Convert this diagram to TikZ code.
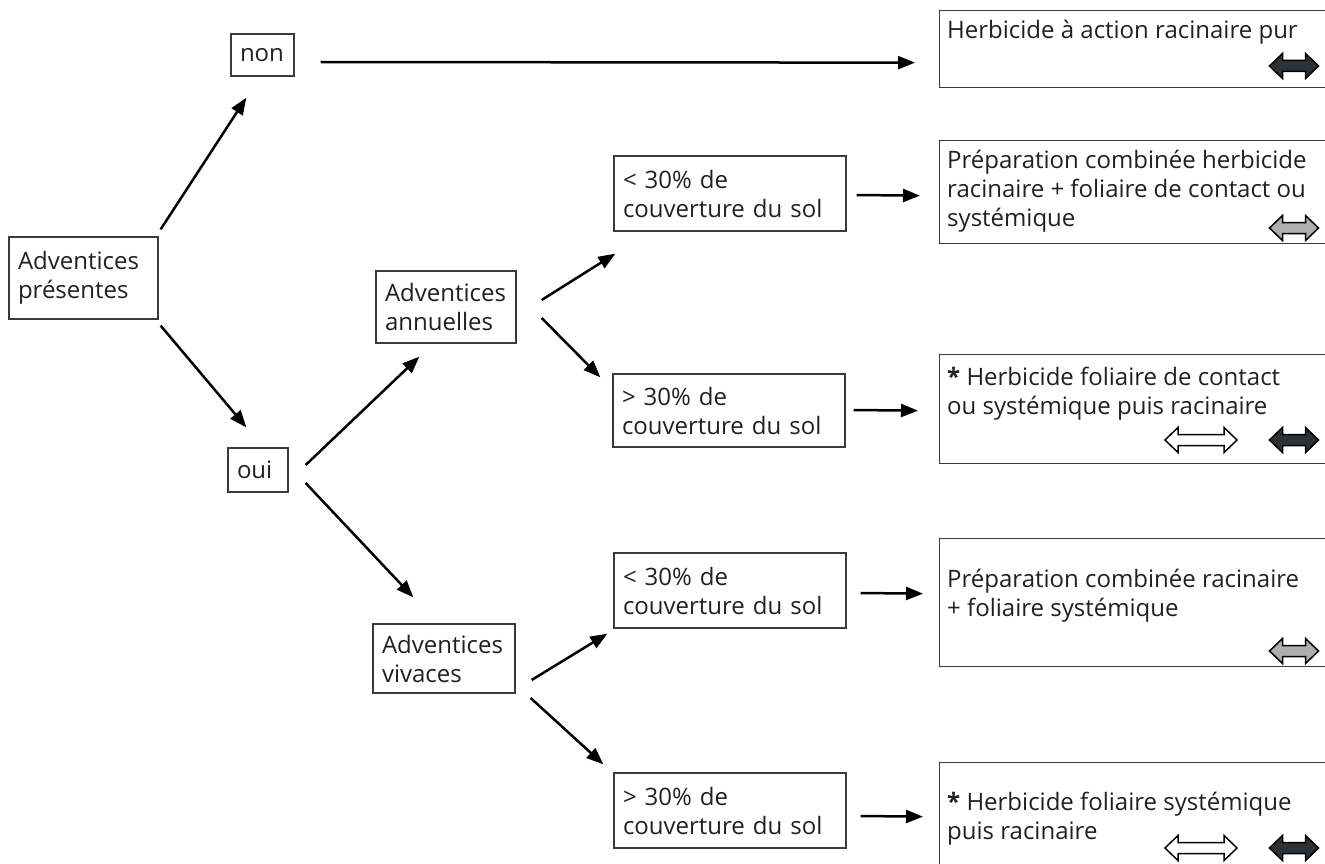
\documentclass[tikz,border=0pt]{standalone}
\usepackage{fontspec}
\setmainfont{Open Sans}
\usetikzlibrary{arrows.meta,calc}
\definecolor{ink}{HTML}{231F20}
\definecolor{boxline}{HTML}{3A3A3A}
\definecolor{darkfill}{HTML}{2E3234}
\definecolor{grayfill}{HTML}{AEAEAE}
\tikzset{
  txt/.style={font=\fontsize{24}{29}\selectfont, text=ink},
  lbox/.style={txt, draw=boxline, line width=1.3pt, inner xsep=9pt, inner ysep=0pt, align=left},
  rbox/.style={draw=boxline, line width=1.3pt, inner sep=0pt, anchor=north west},
  rtext/.style={txt, inner sep=0pt, anchor=north west, align=left},
  arr/.style={draw=black, line width=2.5pt, -{Triangle[length=17pt,width=13pt]}},
  pics/dbl/.style={code={
    \path[pic actions] (-#1,0) -- (-#1+13,-12.5) -- (-#1+13,-5.5) -- (#1-13,-5.5)
      -- (#1-13,-12.5) -- (#1,0) -- (#1-13,12.5) -- (#1-13,5.5) -- (-#1+13,5.5)
      -- (-#1+13,12.5) -- cycle;
  }},
  darkarrow/.style={draw=black, line width=1.5pt, line join=miter, fill=darkfill},
  grayarrow/.style={draw=black, line width=1.5pt, line join=miter, fill=grayfill},
  whitearrow/.style={draw=black, line width=1.5pt, line join=miter, fill=white},
}
\begin{document}
\begin{tikzpicture}[x=1pt,y=-1pt]
\useasboundingbox (0,0) rectangle (1325,864);
\clip (0,0) rectangle (1325,864);

% left and middle boxes
\node[lbox, minimum width=149, minimum height=82, text width=131] (pres) at (83.5,278) {Adventices\\présentes};
\node[lbox, minimum width=63, minimum height=42, text width=45] (non) at (262.5,55) {non};
\node[lbox, minimum width=60, minimum height=44, text width=42] (oui) at (258,470) {oui};
\node[lbox, minimum width=140, minimum height=72, text width=122] (ann) at (446,307) {Adventices\\annuelles};
\node[lbox, minimum width=142, minimum height=69, text width=124] (viv) at (444,658.5) {Adventices\\vivaces};
\node[lbox, minimum width=232, minimum height=75, text width=214] (lt1) at (730,193.5) {< 30\% de\\couverture du sol};
\node[lbox, minimum width=232, minimum height=73, text width=214] (gt1) at (729,410.5) {> 30\% de\\couverture du sol};
\node[lbox, minimum width=232, minimum height=75, text width=214] (lt2) at (730,590.5) {< 30\% de\\couverture du sol};
\node[lbox, minimum width=232, minimum height=75, text width=214] (gt2) at (730,810.5) {> 30\% de\\couverture du sol};

% right boxes
\node[rbox, minimum width=420, minimum height=77] (r1) at (939,10) {};
\node[rbox, minimum width=420, minimum height=103] (r2) at (939,140) {};
\node[rbox, minimum width=420, minimum height=109] (r3) at (939,354) {};
\node[rbox, minimum width=420, minimum height=128] (r4) at (939,538) {};
\node[rbox, minimum width=420, minimum height=150] (r5) at (939,762) {};

\node[rtext] (t1) at ($(r1.north west)+(8,8)$) {\rule{0pt}{20pt}Herbicide à action racinaire pur};
\node[rtext] (t2) at ($(r2.north west)+(8,8)$) {\rule{0pt}{20pt}Préparation combinée herbicide\\racinaire + foliaire de contact ou\\systémique};
\node[rtext] (t3) at ($(r3.north west)+(8,11)$) {\rule{0pt}{20pt}\textbf{*} Herbicide foliaire de contact\\ou systémique puis racinaire};
\node[rtext] (t4) at ($(r4.north west)+(8,29)$) {\rule{0pt}{20pt}Préparation combinée racinaire\\+ foliaire systémique};
\node[rtext] (t5) at ($(r5.north west)+(8,28)$) {\rule{0pt}{20pt}\textbf{*} Herbicide foliaire systémique\\puis racinaire};

% block double arrows
\pic[darkarrow] at (1294,66) {dbl=24.5};
\pic[grayarrow] at (1294,228) {dbl=24.5};
\pic[whitearrow] at (1201,440) {dbl=36};
\pic[darkarrow] at (1294,440) {dbl=24.5};
\pic[grayarrow] at (1294,651) {dbl=24.5};
\pic[whitearrow] at (1201,848) {dbl=36};
\pic[darkarrow] at (1294,848) {dbl=24.5};

% connectors
\draw[arr] ($(pres.north east)+(2,-7)$) -- ($(non.south west)+(16,21)$);
\draw[arr] ($(pres.south east)+(2,6)$) -- ($(oui.north west)+(19,-20)$);
\draw[arr] ($(oui.east)+(17,-5)$) -- ($(ann.south west)+(44,13)$);
\draw[arr] ($(oui.east)+(17,13)$) -- ($(viv.north west)+(41,-26)$);
\draw[arr] ($(ann.east)+(25,-7)$) -- ($(lt1.south west)+(2,22)$);
\draw[arr] ($(ann.east)+(25,11)$) -- ($(gt1.north west)+(-12,4)$);
\draw[arr] ($(viv.east)+(16,21.5)$) -- ($(lt2.south west)+(-6,5)$);
\draw[arr] ($(viv.east)+(15,39.5)$) -- ($(gt2.north west)+(-10,-8)$);
\draw[arr] ($(non.east)+(26,7)$) -- ($(r1.west)+(-24,13.5)$);
\draw[arr] ($(lt1.east)+(10,1.5)$) -- ($(r2.west)+(-19,3.5)$);
\draw[arr] ($(gt1.east)+(8,-0.5)$) -- ($(r3.west)+(-21,1.5)$);
\draw[arr] ($(lt2.east)+(14,2.5)$) -- ($(r4.west)+(-16,-9)$);
\draw[arr] ($(gt2.east)+(14,5.5)$) -- ($(r5.west)+(-16,-21)$);
\end{tikzpicture}
\end{document}
